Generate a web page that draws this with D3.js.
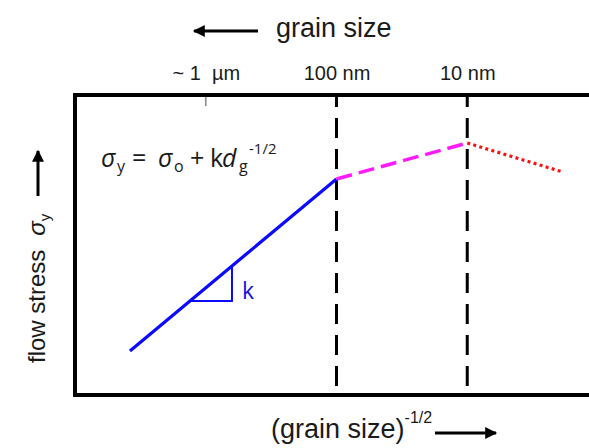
<!DOCTYPE html>
<html>
<head>
<meta charset="utf-8">
<script src="https://cdn.jsdelivr.net/npm/d3@7"></script>
<style>
  html, body { margin: 0; padding: 0; background: #fff; overflow: hidden; }
  svg { display: block; }
  text { font-family: "Liberation Sans", Arial, sans-serif; fill: #1a1a1a; }
  .eq { font-family: "Open Sans", "DejaVu Sans", sans-serif; }
</style>
</head>
<body>
<svg id="chart" width="589" height="448"></svg>
<script>
// Grain sizes (nm) marked along the top of the plot, with their labels
const grainTicks = [1000, 100, 10];
const grainTickLabels = ["~ 1  \u00b5m", "100 nm", "10 nm"];
// Regime boundaries drawn as dashed verticals (nm)
const regimeBounds = [100, 10];

// Flow stress (arbitrary units, 0-100) against grain size (nm)
const hallPetchGrain = [3800, 100];
const hallPetchStress = [14.7, 72.0];
const transitionGrain = [100, 10];
const transitionStress = [72.0, 84.0];
const softeningGrain = [10, 1.85];
const softeningStress = [84.0, 74.3];
// Run of the slope triangle on the Hall-Petch segment (nm)
const slopeRun = [1320, 630];

const svg = d3.select("#chart");
const frame = { left: 75, right: 598, top: 95, bottom: 395 };

// Grain size on a reversed log axis: coarse grains left, fine grains right
const x = d3.scaleLog().domain([10000, 1]).range([frame.left, frame.right]);
const y = d3.scaleLinear().domain([0, 100]).range([frame.bottom, frame.top]);

const zipPts = (gs, ss) => gs.map((g, i) => [g, ss[i]]);
const line = d3.line().x(d => x(d[0])).y(d => y(d[1]));

// Arrow head marker
const defs = svg.append("defs");
defs.append("marker")
  .attr("id", "head")
  .attr("viewBox", "0 0 10 10")
  .attr("refX", 9).attr("refY", 5)
  .attr("markerUnits", "userSpaceOnUse")
  .attr("markerWidth", 13).attr("markerHeight", 12)
  .attr("orient", "auto")
  .append("path").attr("d", "M0,0 L10,5 L0,10 Z").attr("fill", "#000");

// Regime boundaries
svg.append("g").selectAll("line")
  .data(regimeBounds).join("line")
  .attr("x1", d => x(d)).attr("x2", d => x(d))
  .attr("y1", frame.top).attr("y2", frame.bottom)
  .attr("stroke", "#000").attr("stroke-width", 3)
  .attr("stroke-dasharray", "20,11").attr("stroke-dashoffset", 8);

// Small tick for the 1 µm position
svg.append("g").selectAll("line")
  .data(grainTicks.filter(d => !regimeBounds.includes(d))).join("line")
  .attr("x1", d => x(d)).attr("x2", d => x(d))
  .attr("y1", frame.top).attr("y2", frame.top + 11)
  .attr("stroke", "#8a8a8a").attr("stroke-width", 1.6);

// Plot frame (its right side runs past the edge of the page)
svg.append("path")
  .attr("d", `M${frame.right + 30},${frame.top} H${frame.left} V${frame.bottom} H${frame.right + 30}`)
  .attr("fill", "none").attr("stroke", "#000").attr("stroke-width", 4);

// Grain size labels along the top
const topAxis = d3.axisTop(x)
  .tickValues(grainTicks)
  .tickSize(0).tickPadding(15)
  .tickFormat((d, i) => grainTickLabels[i]);
const ax = svg.append("g").attr("transform", `translate(0,${frame.top})`).call(topAxis);
ax.select(".domain").remove();
ax.selectAll("text")
  .style("font-family", "'Liberation Sans', Arial, sans-serif")
  .style("font-size", "20px").style("white-space", "pre")
  .attr("fill", "#1a1a1a");

// Hall-Petch strengthening
svg.append("path")
  .attr("d", line(zipPts(hallPetchGrain, hallPetchStress)))
  .attr("fill", "none").attr("stroke", "#0a0aff").attr("stroke-width", 3.2);

// Transition regime
svg.append("path")
  .attr("d", line(zipPts(transitionGrain, transitionStress)))
  .attr("fill", "none").attr("stroke", "#ff1aff").attr("stroke-width", 3.5)
  .attr("stroke-dasharray", "16,7");

// Inverse Hall-Petch softening
svg.append("path")
  .attr("d", line(zipPts(softeningGrain, softeningStress)))
  .attr("fill", "none").attr("stroke", "#ff1010").attr("stroke-width", 3.2)
  .attr("stroke-dasharray", "3,3.3");

// Slope triangle, vertices taken on the Hall-Petch segment
const lg = Math.log10;
const onHallPetch = g => {
  const t = (lg(hallPetchGrain[0]) - lg(g)) / (lg(hallPetchGrain[0]) - lg(hallPetchGrain[1]));
  return hallPetchStress[0] + t * (hallPetchStress[1] - hallPetchStress[0]);
};
const tri = [
  [slopeRun[0], onHallPetch(slopeRun[0])],
  [slopeRun[1], onHallPetch(slopeRun[0])],
  [slopeRun[1], onHallPetch(slopeRun[1])]
];
svg.append("path")
  .attr("d", line(tri))
  .attr("fill", "none").attr("stroke", "#0a0aff").attr("stroke-width", 2);
svg.append("text")
  .attr("x", x(slopeRun[1]) + 10)
  .attr("y", y(onHallPetch(slopeRun[0])) - 2)
  .style("font-family", "'Open Sans', sans-serif")
  .style("font-size", "23px").style("fill", "#1010e0")
  .text("k");

// Hall-Petch relation
const eq = svg.append("text").attr("class", "eq")
  .attr("y", 167).style("font-size", "25px");
const eqParts = [
  { t: "\u03c3", x: 101, it: true },
  { t: "y", x: 117, dy: 5, fs: 16 },
  { t: "=", x: 132, dy: -5 },
  { t: "\u03c3", x: 158, it: true },
  { t: "o", x: 174, dy: 5, fs: 16 },
  { t: "+", x: 190, dy: -5 },
  { t: "k", x: 210 },
  { t: "d", x: 222, it: true },
  { t: "g", x: 239, dy: 5, fs: 16 },
  { t: "-1/2", x: 249, dy: -18, fs: 15 }
];
eqParts.forEach(p => {
  const s = eq.append("tspan").attr("x", p.x).text(p.t);
  if (p.dy) s.attr("dy", p.dy);
  if (p.fs) s.style("font-size", p.fs + "px");
  if (p.it) s.style("font-style", "italic");
});

// Top title with leftward arrow
svg.append("line")
  .attr("x1", 258).attr("y1", 31).attr("x2", 194).attr("y2", 31)
  .attr("stroke", "#000").attr("stroke-width", 3).attr("marker-end", "url(#head)");
svg.append("text").attr("x", 276).attr("y", 37)
  .style("font-size", "27px").text("grain size");

// Bottom title with rightward arrow
const xt = svg.append("text").attr("x", 271).attr("y", 438).style("font-size", "27px");
xt.append("tspan").text("(grain size)");
xt.append("tspan").attr("dy", -15).style("font-size", "16px").text("-1/2");
svg.append("line")
  .attr("x1", 435).attr("y1", 433).attr("x2", 496).attr("y2", 433)
  .attr("stroke", "#000").attr("stroke-width", 3).attr("marker-end", "url(#head)");

// Vertical title with upward arrow
const yt = svg.append("text")
  .attr("transform", "translate(45,363) rotate(-90)")
  .style("font-size", "24px");
yt.append("tspan").text("flow stress");
yt.append("tspan").attr("dx", 14).style("font-style", "italic").text("\u03c3");
yt.append("tspan").attr("dy", 5).style("font-size", "15px").text("y");
svg.append("line")
  .attr("x1", 38).attr("y1", 196).attr("x2", 38).attr("y2", 151)
  .attr("stroke", "#000").attr("stroke-width", 3).attr("marker-end", "url(#head)");
</script>
</body>
</html>
